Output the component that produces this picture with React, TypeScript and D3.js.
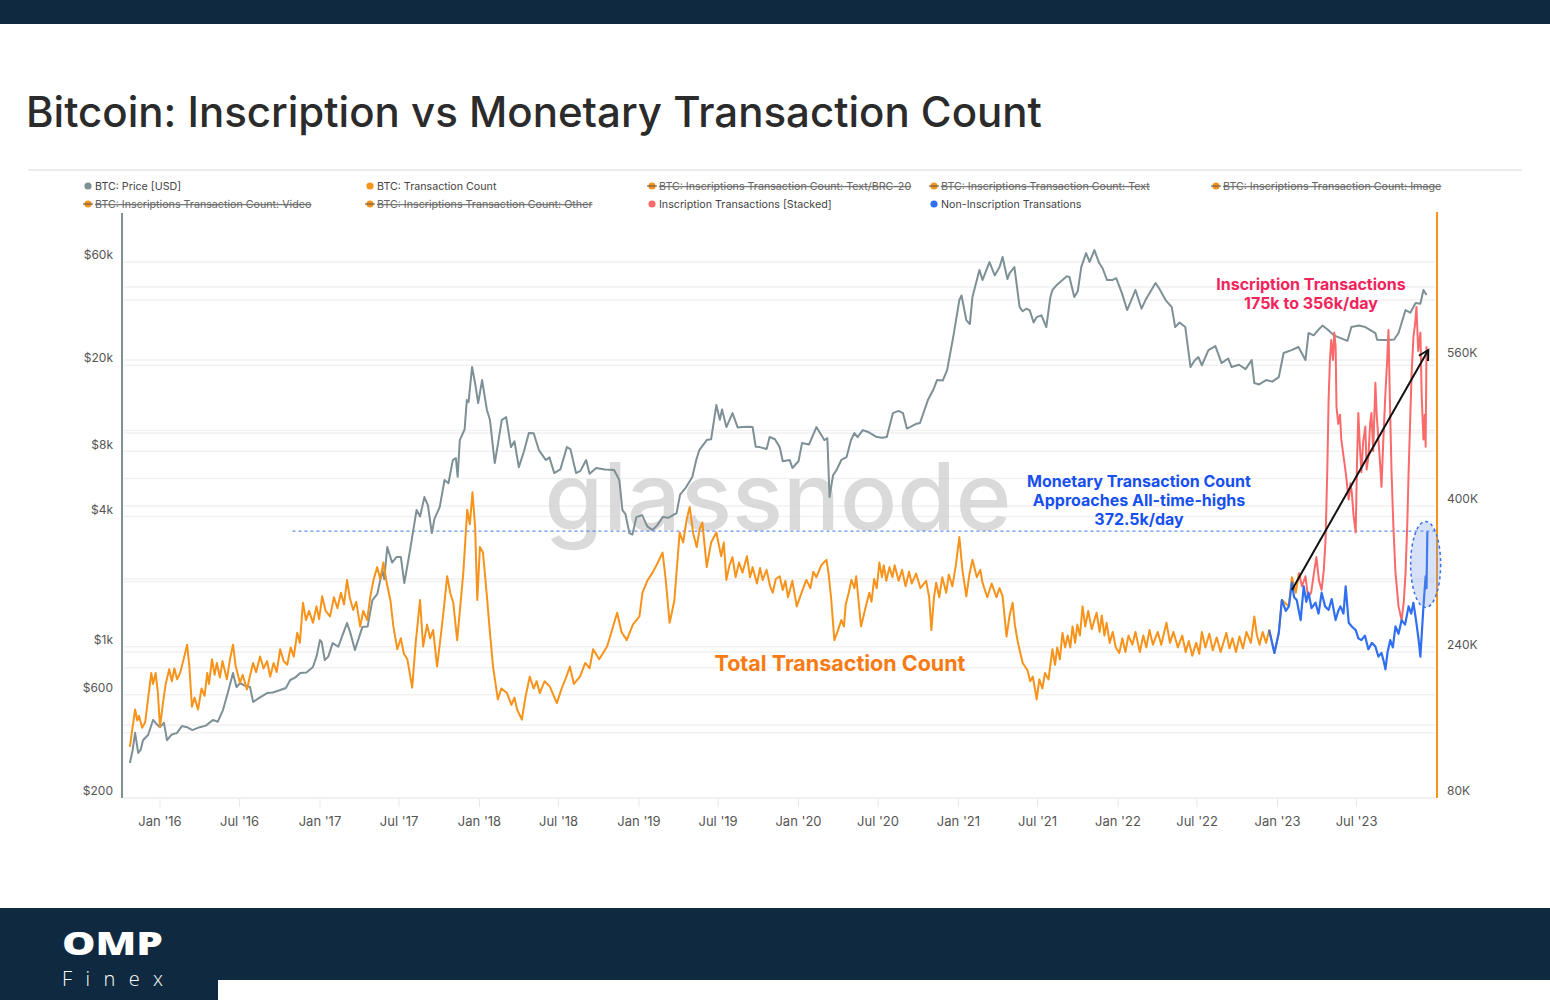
import React from "react";
import * as d3 from "d3";

type Pt = [string, number];

// BTC price (USD)
const priceSeries: Pt[] = [
  ["2015-10-24", 290], ["2015-10-30", 330], ["2015-11-05", 400], ["2015-11-12", 323], ["2015-11-18", 335],
  ["2015-11-23", 370], ["2015-12-05", 392], ["2015-12-16", 459], ["2015-12-24", 440], ["2016-01-01", 425],
  ["2016-01-10", 445], ["2016-01-17", 370], ["2016-01-27", 392], ["2016-02-09", 400], ["2016-02-20", 430],
  ["2016-03-03", 425], ["2016-03-15", 412], ["2016-04-01", 425], ["2016-04-15", 432], ["2016-05-01", 459],
  ["2016-05-12", 450], ["2016-05-24", 510], ["2016-06-04", 611], ["2016-06-16", 756], ["2016-06-24", 650],
  ["2016-07-02", 680], ["2016-07-14", 660], ["2016-07-25", 652], ["2016-08-01", 556], ["2016-08-15", 580],
  ["2016-09-02", 611], ["2016-09-15", 615], ["2016-10-02", 631], ["2016-10-15", 645], ["2016-10-25", 702],
  ["2016-11-05", 720], ["2016-11-17", 756], ["2016-12-01", 760], ["2016-12-16", 806], ["2016-12-24", 900],
  ["2017-01-01", 1074], ["2017-01-05", 1050], ["2017-01-12", 868], ["2017-01-20", 900], ["2017-01-30", 1040],
  ["2017-02-12", 1000], ["2017-02-25", 1180], ["2017-03-04", 1287], ["2017-03-12", 1150], ["2017-03-22", 966],
  ["2017-04-08", 1233], ["2017-04-20", 1240], ["2017-05-01", 1643], ["2017-05-12", 1750], ["2017-05-24", 2262],
  ["2017-05-28", 2050], ["2017-06-04", 2890], ["2017-06-15", 2450], ["2017-06-25", 2598], ["2017-07-05", 2600],
  ["2017-07-13", 1971], ["2017-07-25", 2710], ["2017-08-10", 4283], ["2017-08-18", 4000], ["2017-08-28", 4920],
  ["2017-09-05", 4500], ["2017-09-14", 3354], ["2017-09-20", 3900], ["2017-10-02", 4422], ["2017-10-13", 5897],
  ["2017-10-22", 5700], ["2017-11-01", 7291], ["2017-11-08", 7450], ["2017-11-12", 6100], ["2017-11-17", 9020],
  ["2017-11-28", 10100], ["2017-12-03", 13807], ["2017-12-07", 13500], ["2017-12-15", 19623], ["2017-12-22", 16543],
  ["2017-12-29", 13376], ["2018-01-07", 17081], ["2018-01-18", 12418], ["2018-01-25", 11158], ["2018-02-05", 7065],
  ["2018-02-12", 8600], ["2018-02-21", 11158], ["2018-03-03", 11524], ["2018-03-14", 8368], ["2018-03-22", 8900],
  ["2018-04-01", 6764], ["2018-04-12", 7900], ["2018-04-24", 9720], ["2018-05-05", 9700], ["2018-05-17", 8110],
  ["2018-06-02", 7291], ["2018-06-10", 7500], ["2018-06-21", 6350], ["2018-07-05", 6600], ["2018-07-20", 8368],
  ["2018-07-28", 8200], ["2018-08-10", 6350], ["2018-08-20", 6500], ["2018-09-02", 7291], ["2018-09-10", 6300],
  ["2018-09-25", 6699], ["2018-10-15", 6600], ["2018-11-05", 6554], ["2018-11-17", 5897], ["2018-11-24", 4283],
  ["2018-12-01", 4100], ["2018-12-10", 3354], ["2018-12-17", 3300], ["2018-12-26", 3974], ["2019-01-08", 4060],
  ["2019-01-20", 3600], ["2019-02-01", 3462], ["2019-02-12", 3650], ["2019-02-24", 3974], ["2019-03-10", 3950],
  ["2019-03-28", 4146], ["2019-04-05", 5050], ["2019-04-19", 5471], ["2019-05-03", 6085], ["2019-05-12", 7300],
  ["2019-05-19", 8110], ["2019-06-05", 9020], ["2019-06-15", 9100], ["2019-06-27", 13086], ["2019-07-05", 11200],
  ["2019-07-10", 12500], ["2019-07-20", 10360], ["2019-08-03", 12019], ["2019-08-15", 10300], ["2019-08-26", 10360],
  ["2019-09-10", 10400], ["2019-09-18", 10360], ["2019-09-25", 8400], ["2019-10-04", 8368], ["2019-10-20", 8200],
  ["2019-10-27", 9316], ["2019-11-08", 9100], ["2019-11-19", 8368], ["2019-11-26", 7200], ["2019-12-12", 7291],
  ["2019-12-18", 6700], ["2020-01-01", 7200], ["2020-01-09", 8735], ["2020-01-25", 8600], ["2020-02-11", 10360],
  ["2020-02-29", 9020], ["2020-03-07", 9200], ["2020-03-12", 4920], ["2020-03-20", 6200], ["2020-03-28", 6554],
  ["2020-04-08", 7300], ["2020-04-20", 7523], ["2020-04-30", 9000], ["2020-05-08", 9720], ["2020-05-15", 9300],
  ["2020-05-27", 10032], ["2020-06-10", 9800], ["2020-06-28", 9316], ["2020-07-10", 9250], ["2020-07-21", 9316],
  ["2020-08-04", 12019], ["2020-08-17", 12300], ["2020-08-27", 12019], ["2020-09-05", 10200], ["2020-09-12", 10360],
  ["2020-09-25", 10700], ["2020-10-05", 10813], ["2020-10-23", 13807], ["2020-11-05", 15500], ["2020-11-13", 17081],
  ["2020-11-26", 17000], ["2020-12-06", 18998], ["2020-12-20", 26990], ["2021-01-03", 40021], ["2021-01-08", 42000],
  ["2021-01-19", 32353], ["2021-01-27", 31000], ["2021-02-02", 41314], ["2021-02-18", 55056], ["2021-02-25", 49499],
  ["2021-03-13", 59924], ["2021-03-25", 52000], ["2021-04-05", 56844], ["2021-04-12", 63241], ["2021-04-23", 50000],
  ["2021-04-28", 53333], ["2021-05-09", 56844], ["2021-05-21", 37135], ["2021-05-28", 35500], ["2021-06-05", 36500],
  ["2021-06-13", 35972], ["2021-06-22", 31500], ["2021-06-29", 33387], ["2021-07-10", 34000], ["2021-07-21", 30027],
  ["2021-07-30", 41000], ["2021-08-04", 44523], ["2021-08-14", 47000], ["2021-08-27", 49499], ["2021-09-06", 51500],
  ["2021-09-12", 51114], ["2021-09-23", 41314], ["2021-10-01", 44000], ["2021-10-09", 56844], ["2021-10-20", 65977],
  ["2021-10-28", 60000], ["2021-11-08", 68109], ["2021-11-19", 59321], ["2021-11-27", 56000], ["2021-12-07", 49499],
  ["2021-12-19", 49499], ["2021-12-28", 50500], ["2022-01-10", 43102], ["2022-01-22", 35972], ["2022-02-10", 44523],
  ["2022-02-24", 36500], ["2022-03-05", 40021], ["2022-03-28", 47948], ["2022-04-06", 45000], ["2022-04-20", 40021],
  ["2022-05-04", 37135], ["2022-05-12", 30027], ["2022-05-22", 31500], ["2022-06-04", 30027], ["2022-06-16", 19623],
  ["2022-06-25", 21000], ["2022-07-04", 21820], ["2022-07-12", 20000], ["2022-07-27", 23500], ["2022-08-12", 24500],
  ["2022-08-26", 20463], ["2022-09-10", 21500], ["2022-09-18", 19623], ["2022-10-05", 20100], ["2022-10-20", 19200],
  ["2022-11-03", 21131], ["2022-11-09", 16543], ["2022-11-20", 16300], ["2022-12-06", 17081], ["2022-12-20", 16800],
  ["2023-01-04", 17630], ["2023-01-15", 22768], ["2023-02-02", 23500], ["2023-02-18", 24276], ["2023-03-06", 21131],
  ["2023-03-13", 28174], ["2023-03-25", 27500], ["2023-04-04", 29079], ["2023-04-14", 30500], ["2023-04-27", 29079],
  ["2023-05-10", 27500], ["2023-05-20", 26990], ["2023-06-10", 25900], ["2023-06-19", 30027], ["2023-07-06", 30500],
  ["2023-07-21", 30027], ["2023-08-13", 28174], ["2023-08-17", 26200], ["2023-08-27", 26150], ["2023-09-12", 26150],
  ["2023-09-25", 26300], ["2023-10-05", 28174], ["2023-10-21", 35972], ["2023-11-01", 35000], ["2023-11-13", 38750],
  ["2023-11-24", 38500], ["2023-12-01", 44523], ["2023-12-08", 42197],
];

// Total transaction count (K/day)
const txCountSeries: Pt[] = [
  ["2015-10-24", 136], ["2015-10-28", 150], ["2015-11-05", 177], ["2015-11-10", 165], ["2015-11-14", 170],
  ["2015-11-21", 157], ["2015-11-28", 163], ["2015-12-05", 190], ["2015-12-12", 217], ["2015-12-16", 205],
  ["2015-12-22", 217], ["2015-12-27", 196], ["2016-01-01", 158], ["2016-01-08", 185], ["2016-01-14", 205],
  ["2016-01-22", 221], ["2016-01-28", 208], ["2016-02-03", 222], ["2016-02-09", 210], ["2016-02-16", 217],
  ["2016-02-23", 230], ["2016-03-03", 248], ["2016-03-08", 225], ["2016-03-14", 180], ["2016-03-20", 190],
  ["2016-03-28", 177], ["2016-04-05", 200], ["2016-04-12", 192], ["2016-04-18", 217], ["2016-04-22", 205],
  ["2016-04-29", 232], ["2016-05-05", 215], ["2016-05-10", 228], ["2016-05-17", 212], ["2016-05-23", 230],
  ["2016-06-02", 210], ["2016-06-09", 232], ["2016-06-16", 248], ["2016-06-22", 225], ["2016-07-02", 206],
  ["2016-07-08", 215], ["2016-07-18", 199], ["2016-07-24", 212], ["2016-08-01", 228], ["2016-08-08", 218],
  ["2016-08-17", 235], ["2016-08-25", 222], ["2016-09-02", 230], ["2016-09-09", 213], ["2016-09-17", 228],
  ["2016-09-24", 218], ["2016-10-02", 243], ["2016-10-10", 230], ["2016-10-18", 226], ["2016-10-26", 245],
  ["2016-11-02", 235], ["2016-11-10", 261], ["2016-11-16", 250], ["2016-11-23", 294], ["2016-11-30", 275],
  ["2016-12-07", 285], ["2016-12-16", 272], ["2016-12-24", 290], ["2016-12-30", 276], ["2017-01-06", 301],
  ["2017-01-14", 285], ["2017-01-24", 279], ["2017-02-02", 300], ["2017-02-10", 288], ["2017-02-18", 305],
  ["2017-02-25", 292], ["2017-03-04", 319], ["2017-03-10", 300], ["2017-03-18", 286], ["2017-03-25", 295],
  ["2017-04-03", 268], ["2017-04-10", 285], ["2017-04-19", 275], ["2017-04-26", 300], ["2017-05-03", 318],
  ["2017-05-12", 333], ["2017-05-19", 320], ["2017-05-26", 338], ["2017-06-03", 315], ["2017-06-11", 297],
  ["2017-06-18", 268], ["2017-06-27", 243], ["2017-07-05", 255], ["2017-07-12", 238], ["2017-07-20", 232],
  ["2017-07-31", 201], ["2017-08-08", 250], ["2017-08-18", 297], ["2017-08-25", 246], ["2017-09-03", 270],
  ["2017-09-10", 255], ["2017-09-17", 264], ["2017-09-26", 224], ["2017-10-05", 260], ["2017-10-12", 290],
  ["2017-10-19", 323], ["2017-10-26", 305], ["2017-11-02", 294], ["2017-11-11", 253], ["2017-11-18", 290],
  ["2017-11-25", 327], ["2017-12-04", 396], ["2017-12-10", 380], ["2017-12-16", 415], ["2017-12-22", 377],
  ["2017-12-27", 297], ["2018-01-02", 355], ["2018-01-09", 349], ["2018-01-18", 301], ["2018-01-25", 261],
  ["2018-02-01", 224], ["2018-02-12", 188], ["2018-02-20", 200], ["2018-03-05", 195], ["2018-03-15", 182],
  ["2018-03-22", 190], ["2018-03-28", 177], ["2018-04-08", 166], ["2018-04-16", 190], ["2018-04-26", 213],
  ["2018-05-05", 200], ["2018-05-12", 208], ["2018-05-19", 195], ["2018-05-30", 208], ["2018-06-11", 202],
  ["2018-06-20", 192], ["2018-06-27", 184], ["2018-07-08", 200], ["2018-07-18", 212], ["2018-07-27", 224],
  ["2018-08-05", 205], ["2018-08-19", 213], ["2018-08-31", 228], ["2018-09-10", 222], ["2018-09-18", 243],
  ["2018-10-02", 232], ["2018-10-20", 246], ["2018-10-30", 262], ["2018-11-12", 283], ["2018-11-22", 262],
  ["2018-12-04", 253], ["2018-12-18", 270], ["2019-01-02", 279], ["2019-01-09", 305], ["2019-01-20", 318],
  ["2019-02-01", 327], ["2019-02-10", 335], ["2019-02-24", 349], ["2019-03-03", 320], ["2019-03-12", 272],
  ["2019-03-18", 285], ["2019-03-23", 297], ["2019-04-04", 371], ["2019-04-12", 360], ["2019-04-20", 385],
  ["2019-04-27", 399], ["2019-05-05", 370], ["2019-05-13", 355], ["2019-05-20", 375], ["2019-05-26", 382],
  ["2019-06-05", 333], ["2019-06-15", 360], ["2019-06-27", 371], ["2019-07-08", 345], ["2019-07-14", 360],
  ["2019-07-20", 319], ["2019-07-27", 335], ["2019-08-03", 344], ["2019-08-10", 322], ["2019-08-18", 338],
  ["2019-08-26", 327], ["2019-09-05", 345], ["2019-09-12", 322], ["2019-09-18", 333], ["2019-09-28", 315],
  ["2019-10-05", 332], ["2019-10-11", 319], ["2019-10-20", 330], ["2019-10-28", 312], ["2019-11-03", 305],
  ["2019-11-10", 320], ["2019-11-19", 323], ["2019-11-26", 308], ["2019-12-02", 318], ["2019-12-08", 300],
  ["2019-12-18", 318], ["2019-12-28", 290], ["2020-01-08", 305], ["2020-01-19", 319], ["2020-01-28", 310],
  ["2020-02-04", 328], ["2020-02-11", 322], ["2020-02-22", 335], ["2020-03-05", 341], ["2020-03-10", 325],
  ["2020-03-16", 297], ["2020-03-23", 253], ["2020-03-30", 262], ["2020-04-08", 275], ["2020-04-14", 268],
  ["2020-04-18", 292], ["2020-04-25", 305], ["2020-05-01", 319], ["2020-05-08", 310], ["2020-05-12", 323],
  ["2020-05-23", 268], ["2020-06-02", 288], ["2020-06-11", 305], ["2020-06-16", 295], ["2020-06-22", 320],
  ["2020-06-28", 310], ["2020-07-04", 338], ["2020-07-10", 322], ["2020-07-14", 335], ["2020-07-20", 318],
  ["2020-07-27", 333], ["2020-08-03", 322], ["2020-08-08", 335], ["2020-08-17", 318], ["2020-08-25", 330],
  ["2020-09-02", 312], ["2020-09-10", 328], ["2020-09-16", 315], ["2020-09-26", 326], ["2020-10-06", 310],
  ["2020-10-19", 318], ["2020-10-26", 300], ["2020-10-31", 264], ["2020-11-06", 300], ["2020-11-11", 316],
  ["2020-11-18", 300], ["2020-11-25", 322], ["2020-12-04", 305], ["2020-12-10", 325], ["2020-12-18", 312],
  ["2020-12-26", 335], ["2021-01-03", 366], ["2021-01-10", 330], ["2021-01-19", 301], ["2021-01-26", 325],
  ["2021-02-02", 341], ["2021-02-12", 322], ["2021-02-20", 330], ["2021-02-25", 316], ["2021-03-08", 300],
  ["2021-03-18", 315], ["2021-03-29", 300], ["2021-04-05", 310], ["2021-04-12", 301], ["2021-04-21", 257],
  ["2021-04-28", 280], ["2021-05-05", 294], ["2021-05-10", 270], ["2021-05-16", 253], ["2021-05-22", 240],
  ["2021-05-28", 228], ["2021-06-08", 220], ["2021-06-14", 208], ["2021-06-20", 213], ["2021-06-25", 200],
  ["2021-06-29", 188], ["2021-07-05", 210], ["2021-07-12", 200], ["2021-07-18", 217], ["2021-07-26", 210],
  ["2021-08-04", 243], ["2021-08-10", 226], ["2021-08-15", 245], ["2021-08-21", 232], ["2021-08-27", 261],
  ["2021-09-02", 245], ["2021-09-08", 258], ["2021-09-14", 245], ["2021-09-19", 268], ["2021-09-25", 250],
  ["2021-09-30", 270], ["2021-10-06", 258], ["2021-10-12", 290], ["2021-10-18", 268], ["2021-10-25", 285],
  ["2021-11-02", 265], ["2021-11-13", 283], ["2021-11-20", 262], ["2021-11-25", 280], ["2021-12-01", 258],
  ["2021-12-06", 272], ["2021-12-13", 250], ["2021-12-20", 262], ["2021-12-27", 245], ["2022-01-04", 239],
  ["2022-01-11", 255], ["2022-01-18", 240], ["2022-01-25", 258], ["2022-02-03", 248], ["2022-02-10", 262],
  ["2022-02-20", 240], ["2022-02-28", 258], ["2022-03-07", 245], ["2022-03-14", 264], ["2022-03-22", 248],
  ["2022-04-02", 262], ["2022-04-10", 248], ["2022-04-22", 272], ["2022-04-30", 250], ["2022-05-08", 262],
  ["2022-05-18", 245], ["2022-05-28", 258], ["2022-06-05", 240], ["2022-06-12", 252], ["2022-06-20", 236],
  ["2022-06-29", 250], ["2022-07-06", 238], ["2022-07-12", 262], ["2022-07-20", 245], ["2022-07-29", 260],
  ["2022-08-06", 242], ["2022-08-15", 256], ["2022-08-24", 240], ["2022-09-06", 261], ["2022-09-13", 244],
  ["2022-09-20", 255], ["2022-09-28", 240], ["2022-10-06", 257], ["2022-10-14", 244], ["2022-10-22", 262],
  ["2022-11-01", 250], ["2022-11-09", 279], ["2022-11-15", 258], ["2022-11-21", 248], ["2022-11-28", 262],
  ["2022-12-06", 250], ["2022-12-13", 264], ["2022-12-25", 239], ["2023-01-04", 261], ["2023-01-11", 297],
  ["2023-01-27", 290], ["2023-02-03", 322], ["2023-02-12", 305], ["2023-02-19", 327],
];

// Inscription transactions, stacked on non-inscription (K/day)
const inscriptionStacked: Pt[] = [
  ["2023-02-19", 327], ["2023-02-26", 312], ["2023-03-06", 323], ["2023-03-12", 300], ["2023-03-19", 305],
  ["2023-03-25", 325], ["2023-03-31", 344], ["2023-04-06", 318], ["2023-04-12", 308], ["2023-04-17", 330],
  ["2023-04-21", 363], ["2023-04-25", 440], ["2023-04-28", 517], ["2023-05-01", 560], ["2023-05-04", 582],
  ["2023-05-08", 560], ["2023-05-11", 590], ["2023-05-14", 575], ["2023-05-16", 509], ["2023-05-20", 490],
  ["2023-05-24", 500], ["2023-05-27", 473], ["2023-06-01", 455], ["2023-06-06", 437], ["2023-06-10", 420],
  ["2023-06-13", 407], ["2023-06-17", 425], ["2023-06-20", 415], ["2023-06-24", 390], ["2023-06-29", 371],
  ["2023-07-02", 450], ["2023-07-05", 502], ["2023-07-08", 470], ["2023-07-12", 437], ["2023-07-16", 470],
  ["2023-07-21", 487], ["2023-07-24", 440], ["2023-07-28", 454], ["2023-08-01", 490], ["2023-08-04", 502],
  ["2023-08-08", 460], ["2023-08-13", 535], ["2023-08-16", 500], ["2023-08-20", 473], ["2023-08-24", 445],
  ["2023-08-27", 421], ["2023-08-31", 470], ["2023-09-05", 524], ["2023-09-09", 560], ["2023-09-12", 593],
  ["2023-09-15", 520], ["2023-09-19", 437], ["2023-09-23", 380], ["2023-09-28", 327], ["2023-10-05", 290],
  ["2023-10-12", 275], ["2023-10-17", 295], ["2023-10-21", 327], ["2023-10-25", 380], ["2023-10-28", 437],
  ["2023-11-01", 500], ["2023-11-04", 546], ["2023-11-08", 585], ["2023-11-12", 600], ["2023-11-15", 618],
  ["2023-11-19", 570], ["2023-11-24", 590], ["2023-11-27", 520], ["2023-12-01", 473], ["2023-12-04", 500],
  ["2023-12-06", 465], ["2023-12-08", 575],
];

// Non-inscription (monetary) transactions (K/day)
const nonInscription: Pt[] = [
  ["2022-12-13", 264], ["2022-12-25", 239], ["2023-01-04", 261], ["2023-01-11", 297], ["2023-01-20", 285],
  ["2023-01-27", 290], ["2023-02-03", 316], ["2023-02-08", 300], ["2023-02-14", 297], ["2023-02-23", 275],
  ["2023-03-02", 312], ["2023-03-08", 295], ["2023-03-13", 305], ["2023-03-20", 288], ["2023-03-29", 294],
  ["2023-04-05", 282], ["2023-04-12", 305], ["2023-04-20", 290], ["2023-04-28", 286], ["2023-05-05", 298],
  ["2023-05-14", 275], ["2023-05-20", 285], ["2023-05-25", 290], ["2023-06-01", 282], ["2023-06-06", 312],
  ["2023-06-13", 272], ["2023-06-20", 268], ["2023-06-29", 264], ["2023-07-05", 255], ["2023-07-12", 253],
  ["2023-07-20", 258], ["2023-07-28", 243], ["2023-08-05", 250], ["2023-08-13", 246], ["2023-08-20", 235],
  ["2023-08-27", 239], ["2023-09-01", 230], ["2023-09-05", 221], ["2023-09-10", 240], ["2023-09-16", 253],
  ["2023-09-22", 245], ["2023-09-28", 268], ["2023-10-05", 260], ["2023-10-12", 275], ["2023-10-20", 270],
  ["2023-10-28", 290], ["2023-11-03", 282], ["2023-11-08", 294], ["2023-11-14", 275], ["2023-11-20", 253],
  ["2023-11-24", 235], ["2023-12-01", 290], ["2023-12-06", 323], ["2023-12-08", 310], ["2023-12-10", 372],
];

const leftTickValues = [200, 600, 1000, 4000, 8000, 20000, 60000];
const leftTickLabels = ["$200", "$600", "$1k", "$4k", "$8k", "$20k", "$60k"];
const leftGridValues = [200, 400, 600, 800, 1000, 2000, 4000, 6000, 8000, 10000, 20000, 40000, 60000];
const rightTickValues = [80, 240, 400, 560];
const rightTickLabels = ["80K", "240K", "400K", "560K"];
const rightGridValues = [80, 160, 240, 320, 400, 480, 560, 640];
const xTickDates = [
  "2016-01-01", "2016-07-01", "2017-01-01", "2017-07-01", "2018-01-01", "2018-07-01", "2019-01-01", "2019-07-01",
  "2020-01-01", "2020-07-01", "2021-01-01", "2021-07-01", "2022-01-01", "2022-07-01", "2023-01-01", "2023-07-01",
];
const xTickLabels = [
  "Jan '16", "Jul '16", "Jan '17", "Jul '17", "Jan '18", "Jul '18", "Jan '19", "Jul '19",
  "Jan '20", "Jul '20", "Jan '21", "Jul '21", "Jan '22", "Jul '22", "Jan '23", "Jul '23",
];

const legendItems = [
  { label: "BTC: Price [USD]", color: "#7d9096", hidden: false },
  { label: "BTC: Transaction Count", color: "#f7931a", hidden: false },
  { label: "BTC: Inscriptions Transaction Count: Text/BRC-20", color: "#f7931a", hidden: true },
  { label: "BTC: Inscriptions Transaction Count: Text", color: "#f7931a", hidden: true },
  { label: "BTC: Inscriptions Transaction Count: Image", color: "#f7931a", hidden: true },
  { label: "BTC: Inscriptions Transaction Count: Video", color: "#f7931a", hidden: true },
  { label: "BTC: Inscriptions Transaction Count: Other", color: "#f7931a", hidden: true },
  { label: "Inscription Transactions [Stacked]", color: "#f96a6a", hidden: false },
  { label: "Non-Inscription Transations", color: "#2f6ff0", hidden: false },
];

const ATH_VALUE = 372.5;
const DASH_START = "2016-10-30";
const ARROW_FROM: Pt = ["2023-02-03", 308];
const ARROW_TO: Pt = ["2023-12-12", 571];
const ELLIPSE_AT: Pt = ["2023-12-06", 336];

const parse = d3.timeParse("%Y-%m-%d");
const FONT = "Inter, 'Noto Sans', sans-serif";

export default function App() {
  const x = d3.scaleTime().domain([parse("2015-10-06")!, parse("2024-01-01")!]).range([122, 1437]);
  const yP = d3.scaleLog().domain([200, 60000]).range([798, 262]);
  const yT = d3.scaleLinear().domain([80, 560]).range([798, 360]);

  const priceLine = d3.line<Pt>().x((d) => x(parse(d[0])!)).y((d) => yP(d[1]));
  const txLine = d3.line<Pt>().x((d) => x(parse(d[0])!)).y((d) => yT(d[1]));

  const ax1 = x(parse(ARROW_FROM[0])!), ay1 = yT(ARROW_FROM[1]);
  const ax2 = x(parse(ARROW_TO[0])!), ay2 = yT(ARROW_TO[1]);
  const ang = Math.atan2(ay2 - ay1, ax2 - ax1);
  const hl = 11;
  const h1 = [ax2 - hl * Math.cos(ang - 0.5), ay2 - hl * Math.sin(ang - 0.5)];
  const h2 = [ax2 - hl * Math.cos(ang + 0.5), ay2 - hl * Math.sin(ang + 0.5)];

  return (
    <svg width={1550} height={1000} style={{ position: "absolute", left: 0, top: 0, background: "#fff" }} fontFamily={FONT}>
      <rect x={0} y={0} width={1550} height={1000} fill="#ffffff" />
      <rect x={0} y={0} width={1550} height={24} fill="#0f2a40" />

      <text x={26} y={127} fontSize={42} fontWeight={500} fill="#2b2b2b">
        Bitcoin: Inscription vs Monetary Transaction Count
      </text>
      <line x1={28} x2={1522} y1={170} y2={170} stroke="#e6e6e6" strokeWidth={1.5} />

      {legendItems.map((it, i) => {
        const col = i % 5, row = Math.floor(i / 5);
        const cx = 88 + col * 282, cy = 186 + row * 18;
        return (
          <g key={it.label}>
            <circle cx={cx} cy={cy} r={3.6} fill={it.color} />
            {it.hidden && <line x1={cx - 5} x2={cx + 5} y1={cy} y2={cy} stroke="#555" strokeWidth={1} />}
            <text x={cx + 7} y={cy + 4} fontSize={10.7} fill={it.hidden ? "#666" : "#444"}
              style={{ textDecoration: it.hidden ? "line-through" : "none" }}>
              {it.label}
            </text>
          </g>
        );
      })}

      {/* grid */}
      {leftGridValues.map((v) => (
        <line key={"lg" + v} x1={124} x2={1435} y1={yP(v)} y2={yP(v)} stroke="#f1f1f1" strokeWidth={1.5} />
      ))}
      {rightGridValues.map((v) => (
        <line key={"rg" + v} x1={124} x2={1435} y1={yT(v)} y2={yT(v)} stroke="#f1f1f1" strokeWidth={1.5} />
      ))}

      {/* watermark */}
      <text x={778} y={530} textAnchor="middle" fontSize={94} fontWeight={500} fill="#d4d4d4" opacity={0.85}
        textLength={467} lengthAdjust="spacingAndGlyphs">glassnode</text>

      {/* axes */}
      <line x1={122} x2={122} y1={213} y2={798} stroke="#7d9096" strokeWidth={2} />
      <line x1={1437} x2={1437} y1={212} y2={798} stroke="#f7931a" strokeWidth={2} />
      {leftTickValues.map((v, i) => (
        <text key={"lt" + v} x={113} y={yP(v) - 7} dy="0.35em" textAnchor="end" fontSize={12} fill="#555">
          {leftTickLabels[i]}
        </text>
      ))}
      {rightTickValues.map((v, i) => (
        <text key={"rt" + v} x={1447} y={yT(v) - 7} dy="0.35em" textAnchor="start" fontSize={12} fill="#555">
          {rightTickLabels[i]}
        </text>
      ))}
      {xTickDates.map((d, i) => {
        const xx = x(parse(d)!);
        return (
          <g key={d}>
            <line x1={xx} x2={xx} y1={799} y2={807} stroke="#e8e8e8" strokeWidth={1} />
            <text x={xx} y={826} textAnchor="middle" fontSize={13} fill="#555">{xTickLabels[i]}</text>
          </g>
        );
      })}

      {/* dashed ATH line */}
      <line x1={x(parse(DASH_START)!)} x2={1437} y1={yT(ATH_VALUE)} y2={yT(ATH_VALUE)}
        stroke="#3a6fe8" strokeWidth={1} strokeDasharray="3,3" />

      {/* series */}
      <path d={priceLine(priceSeries)!} fill="none" stroke="#7d9096" strokeWidth={2} strokeLinejoin="round" />
      <path d={txLine(txCountSeries)!} fill="none" stroke="#f7931a" strokeWidth={2} strokeLinejoin="round" />
      <path d={txLine(inscriptionStacked)!} fill="none" stroke="#f96a6a" strokeWidth={2} strokeLinejoin="round" />
      <path d={txLine(nonInscription)!} fill="none" stroke="#2f6ff0" strokeWidth={2.2} strokeLinejoin="round" />

      {/* ellipse highlight */}
      <ellipse cx={x(parse(ELLIPSE_AT[0])!)} cy={yT(ELLIPSE_AT[1])} rx={15} ry={43}
        fill="rgba(110,150,230,0.28)" stroke="#3a6fe8" strokeWidth={1.5} strokeDasharray="3,3" />

      {/* arrow */}
      <line x1={ax1} y1={ay1} x2={ax2} y2={ay2} stroke="#111" strokeWidth={2} />
      <polyline points={`${h1[0]},${h1[1]} ${ax2},${ay2} ${h2[0]},${h2[1]}`} fill="none" stroke="#111" strokeWidth={2} />

      {/* annotations */}
      <text x={840} y={671} textAnchor="middle" fontSize={21.5} fontWeight={700} fill="#f77b12">Total Transaction Count</text>
      <g fontSize={16} fontWeight={700} fill="#1750f0" textAnchor="middle">
        <text x={1139} y={487}>Monetary Transaction Count</text>
        <text x={1139} y={506}>Approaches All-time-highs</text>
        <text x={1139} y={525}>372.5k/day</text>
      </g>
      <g fontSize={16} fontWeight={700} fill="#f2245c" textAnchor="middle">
        <text x={1311} y={290}>Inscription Transactions</text>
        <text x={1311} y={309}>175k to 356k/day</text>
      </g>

      {/* footer */}
      <rect x={0} y={908} width={1550} height={92} fill="#0f2a40" />
      <rect x={218} y={980} width={1332} height={20} fill="#ffffff" />
      <text x={62} y={955} fontSize={32} fontWeight={800} fill="#ffffff" fontFamily="'Open Sans', sans-serif"
        textLength={101} lengthAdjust="spacingAndGlyphs">OMP</text>
      <text x={62} y={986} fontSize={20} fontWeight={300} fill="#ffffff" fontFamily="'Open Sans', sans-serif"
        textLength={101} lengthAdjust="spacing">Finex</text>
    </svg>
  );
}
